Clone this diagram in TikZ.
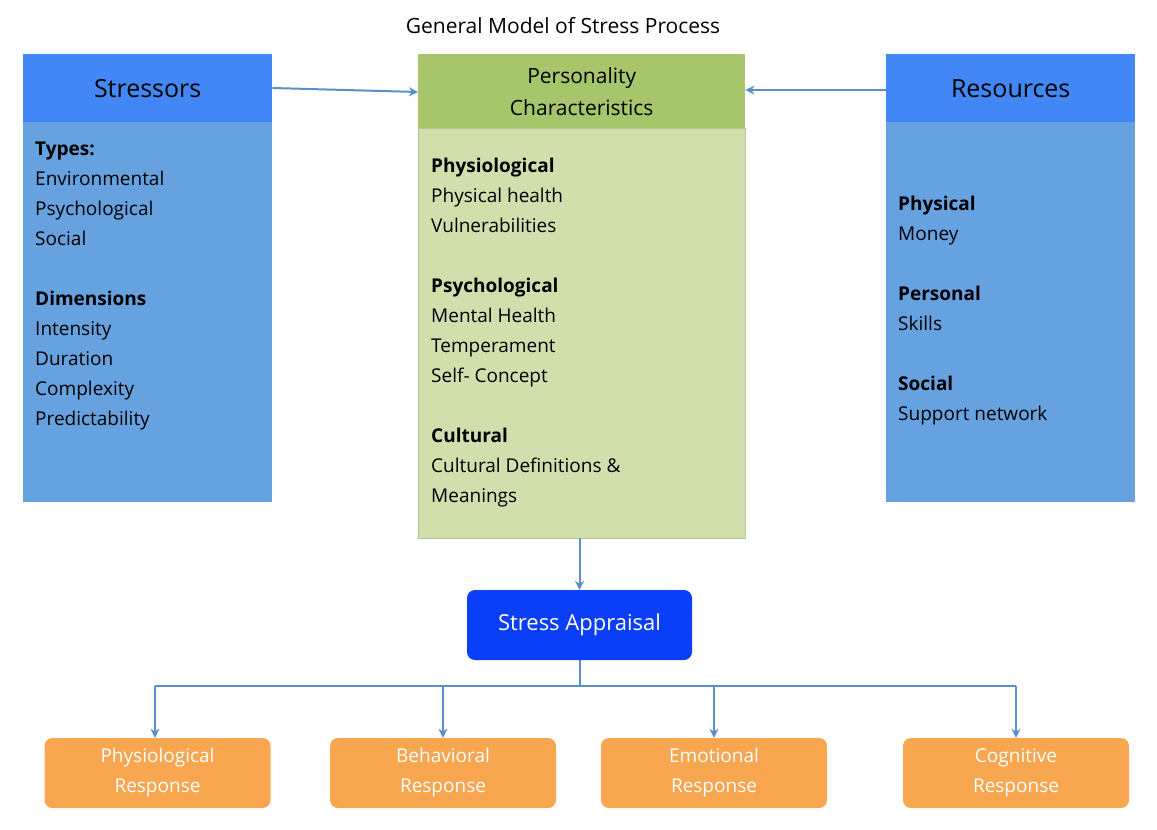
\documentclass[tikz,border=0pt]{standalone}
\usepackage{fontspec}
\setmainfont{Open Sans}
\usetikzlibrary{arrows.meta}
\definecolor{hdrblue}{HTML}{4287F5}
\definecolor{bodyblue}{HTML}{66A1E0}
\definecolor{hdrgreen}{HTML}{A7C56B}
\definecolor{bodygreen}{HTML}{D1DFAC}
\definecolor{appblue}{HTML}{0B3EF7}
\definecolor{orng}{HTML}{F9A650}
\definecolor{arr}{HTML}{5B8FCB}
\begin{document}
\begin{tikzpicture}[x=1pt,y=-1pt,
  box/.style={draw=none,inner sep=0pt},
  body/.style={font=\fontsize{19}{30}\selectfont,align=left,anchor=north west,inner sep=0pt,text depth=0pt},
  hdr/.style={font=\fontsize{25}{30}\selectfont},
  conn/.style={draw=arr,line width=2pt,-{Stealth[length=9pt,width=9pt]}},
  line/.style={draw=arr,line width=2pt},
  resp/.style={fill=orng,rounded corners=8pt,text=white,font=\fontsize{19}{30}\selectfont,align=center,minimum width=226pt,minimum height=70pt,inner sep=0pt}]
\useasboundingbox (0,0) rectangle (1157,830);
\node (title) at (563,26) {\fontsize{21}{25}\selectfont General Model of Stress Process};
% Stressors
\fill[bodyblue] (23,122) rectangle (272,502);
\node[fill=hdrblue,minimum width=249pt,minimum height=68pt,inner sep=0pt,anchor=north west,hdr] (str) at (23,54) {Stressors};
\node[body] (strt) at (35,142) {\textbf{Types:}\\Environmental\\Psychological\\Social\\[30pt]\textbf{Dimensions}\\Intensity\\Duration\\Complexity\\Predictability};
% Resources
\fill[bodyblue] (886,122) rectangle (1135,502);
\node[fill=hdrblue,minimum width=249pt,minimum height=68pt,inner sep=0pt,anchor=north west,hdr] (res) at (886,54) {Resources};
\node[body] (rest) at (898,196) {\textbf{Physical}\\Money\\[30pt]\textbf{Personal}\\Skills\\[30pt]\textbf{Social}\\Support network};
% Personality
\node[fill=bodygreen,draw=hdrgreen!80!black!60,minimum width=327pt,minimum height=410pt,inner sep=0pt,anchor=north west] (pbody) at (418,128) {};
\node[fill=hdrgreen,minimum width=327pt,minimum height=74pt,inner sep=0pt,anchor=north west,align=center,font=\fontsize{21}{32}\selectfont] (pers) at (418,54) {Personality\\Characteristics};
\node[body] (perst) at (431,158) {\textbf{Physiological}\\Physical health\\Vulnerabilities\\[30pt]\textbf{Psychological}\\Mental Health\\Temperament\\Self- Concept\\[30pt]\textbf{Cultural}\\Cultural Definitions \&\\Meanings};
% Appraisal
\node[fill=appblue,rounded corners=8pt,text=white,minimum width=225pt,minimum height=70pt,inner sep=0pt,font=\fontsize{22}{26}\selectfont] (app) at (579.5,625) {Stress Appraisal};
% Responses
\node[resp] (r1) at (157.5,773) {Physiological\\Response};
\node[resp] (r2) at (443,773) {Behavioral\\Response};
\node[resp] (r3) at (714,773) {Emotional\\Response};
\node[resp] (r4) at (1016,773) {Cognitive\\Response};
% Connectors
\draw[conn] (str.east|-0,88) -- (pers.west|-0,92);
\draw[conn] (res.west|-0,90) -- (pers.east|-0,90);
\draw[conn] (pbody.south-|579.5,0) -- (app.north);
\coordinate (j) at (579.5,686);
\coordinate (jl) at (155,686);
\coordinate (jr) at (1016,686);
\draw[line] (app.south) -- (j);
\draw[line] (jl) -- (jr);
\draw[conn] (jl) -- (r1.north-|jl);
\draw[conn] (r2.north|-j) -- (r2.north);
\draw[conn] (r3.north|-j) -- (r3.north);
\draw[conn] (jr) -- (r4.north);
\end{tikzpicture}
\end{document}
